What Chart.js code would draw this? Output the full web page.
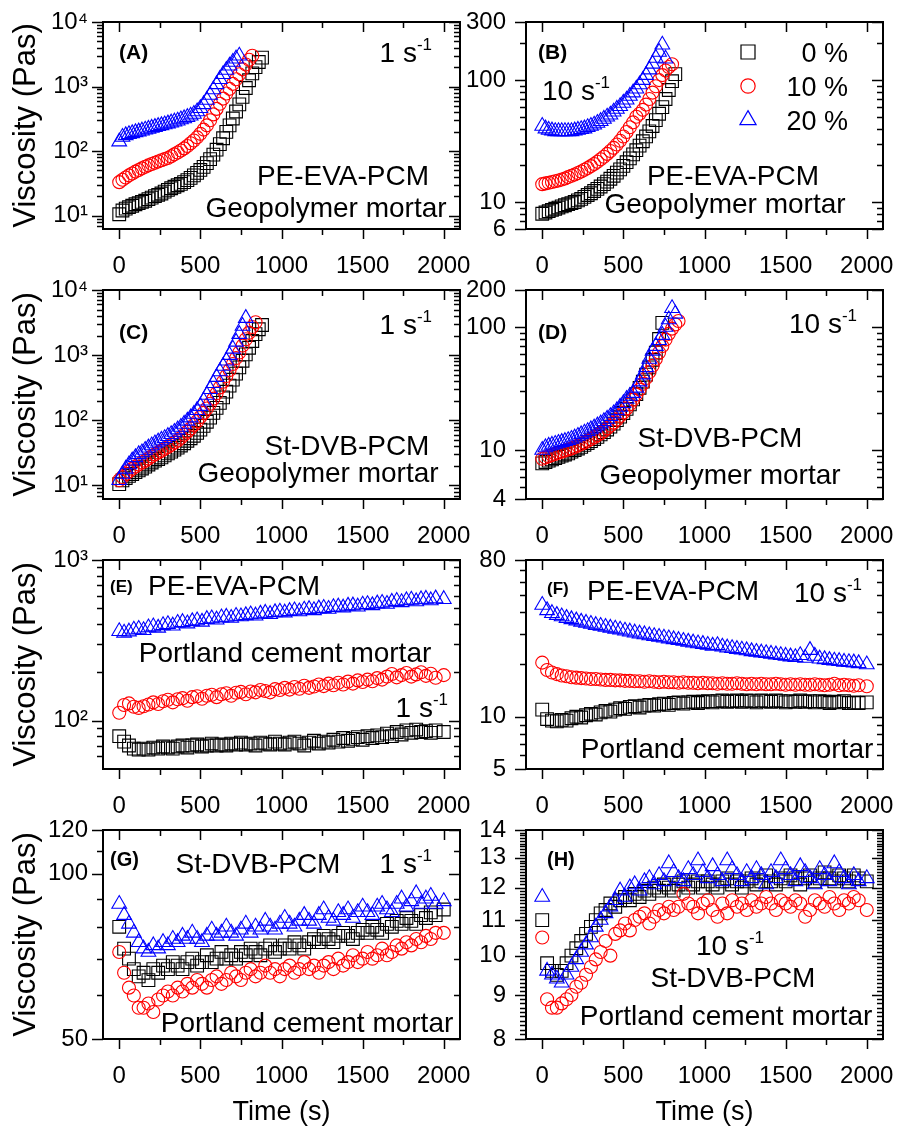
<!DOCTYPE html>
<html>
<head>
<meta charset="utf-8">
<script src="https://cdn.jsdelivr.net/npm/chart.js@4.4.1/dist/chart.umd.min.js"></script>
<style>
  body { margin: 0; width: 909px; height: 1130px; background: #fff; position: relative; overflow: hidden; }
  canvas { position: absolute; }
</style>
</head>
<body>
<canvas id="cA"></canvas><canvas id="cB"></canvas>
<canvas id="cC"></canvas><canvas id="cD"></canvas>
<canvas id="cE"></canvas><canvas id="cF"></canvas>
<canvas id="cG"></canvas><canvas id="cH"></canvas>
<script>
// sampling times (s)
const T20 = [0,20,40,60,80,100,120,140,160,180,200,220,240,260,280,300,320,340,360,380,400,420,440,460,480,500,520,540,560,580,600,620,640,660,680,700,720,740,760,780,800,820,840,860,880];
const T30 = [0,30,60,90,120,150,180,210,240,270,300,330,360,390,420,450,480,510,540,570,600,630,660,690,720,750,780,810,840,870,900,930,960,990,1020,1050,1080,1110,1140,1170,1200,1230,1260,1290,1320,1350,1380,1410,1440,1470,1500,1530,1560,1590,1620,1650,1680,1710,1740,1770,1800,1830,1860,1890,1920,1950,2000];

const xTicks = [0, 500, 1000, 1500, 2000];
const xTickLabels = ['0', '500', '1000', '1500', '2000'];
const xMinor = [250, 750, 1250, 1750];

// (A) PE-EVA-PCM, geopolymer, 1 s-1
const blackA = [10.5,12,12.8,13.5,14.2,15,15.6,16.3,17,18,
  19,20,21,22,23.5,25,26.5,28,29.5,31,
  33,35.5,38.5,42,46,51,57,65,75,88,
  105,128,158,198,250,320,410,530,690,950,
  1250,1600,2000,2400,2800];
const redA = [33,36,39,42,45,48,51,54,57,60,
  63,66,69,72,75,78,83,89,95,102,
  110,120,132,146,163,185,215,250,300,370,
  450,540,650,780,920,1100,1300,1550,1850,2200,
  2600,3000];
const blueA = [140,165,175,182,188,195,200,207,214,220,
  228,235,243,250,258,266,275,285,295,308,
  320,335,352,375,410,460,530,620,740,900,
  1080,1300,1550,1800,2100,2400,2700,3000];

// (B) PE-EVA-PCM, geopolymer, 10 s-1
const blackB = [8,8.2,8.4,8.6,8.8,9,9.2,9.4,9.6,9.8,
  10,10.3,10.6,11,11.4,11.8,12.3,12.8,13.4,14,
  14.7,15.5,16.4,17.4,18.5,19.8,21.2,22.8,24.6,26.6,
  29,31.5,34.5,38,42,47,53,60,70,83,
  98,112];
const redB = [14,14.2,14.4,14.6,14.8,15,15.3,15.6,16,16.4,
  16.8,17.3,17.8,18.4,19,19.7,20.5,21.4,22.4,23.5,
  24.8,26.2,27.8,29.6,31.8,34.5,37.5,41,45,50,
  53,57,63,70,79,89,100,110,120,128,
  135];
const blueB = [42,40,39,38.5,38,38,38,38,38,38,
  38.5,39,39.5,40,41,42,43,44.5,46,48,
  50,52,55,58,61,65,69,74,79,85,
  92,100,110,122,136,152,170,195,150];

// (C) St-DVB-PCM, geopolymer, 1 s-1
const blackC = [10.5,12,13,14,15,16,17,18.2,19.5,21,
  22.5,24,25.5,27,29,31,33,35.5,38,41,
  44.5,48.5,53,58,64,72,82,95,110,130,
  155,185,225,275,340,420,520,650,820,1030,
  1300,1650,2100,2500,2900];
const redC = [12,13.5,15,16.5,18,19.5,21,22.5,24,26,
  28,30,32,34,36.5,39,42,45.5,49,54,
  60,67,75,85,97,112,130,152,180,215,
  260,320,390,480,590,730,900,1100,1400,1750,
  2200,2700,3200];
const blueC = [12,15,18,21,24,27,30,32,35,38,
  41,44,47,50,53,57,61,66,72,79,
  88,98,110,125,143,165,200,245,300,370,
  460,560,680,820,1000,1250,1600,2100,2800,3700];

// (D) St-DVB-PCM, geopolymer, 10 s-1
const blackD = [7.8,8,8.2,8.4,8.6,8.8,9,9.2,9.4,9.7,
  10,10.3,10.6,11,11.4,11.8,12.3,12.8,13.4,14,
  14.7,15.5,16.4,17.5,18.7,20,21.6,23.5,25.8,28.5,
  32,36,41,47,54,62,80,108];
const redD = [8.5,8.7,8.9,9.1,9.3,9.5,9.7,9.9,10.1,10.3,
  10.6,10.9,11.2,11.5,11.9,12.3,12.7,13.2,13.7,14.3,
  15,15.8,16.7,17.7,18.9,20.2,21.8,23.6,25.7,28.2,
  31,34.5,38.5,43,48.5,55,62,70,79,88,
  97,105,112];
const blueD = [10,10.5,10.8,11,11.2,11.4,11.6,11.8,12,12.3,
  12.6,13,13.4,13.8,14.2,14.7,15.2,15.8,16.4,17.1,
  17.9,18.8,19.8,21,22.4,24,26,27.5,29,32,
  36,41,47,55,64,70,78,86,100,115,
  142,128];

// (E) PE-EVA-PCM, Portland, 1 s-1
const blackE = [80,74,70,67,66,67,66,68,67,69,
  68,67,69,70,68,70,71,69,70,72,
  70,71,70,72,71,73,71,72,70,73,
  72,71,74,72,71,73,74,72,70,73,
  75,72,74,73,76,74,78,75,77,79,
  76,80,78,81,79,83,80,85,82,87,
  84,88,85,86,84,87,85];
const redE = [112,125,128,122,120,123,126,130,127,132,
  135,130,136,138,133,140,142,137,143,145,
  140,146,148,143,149,151,146,152,150,155,
  153,150,157,155,160,156,162,158,165,160,
  163,168,164,170,166,172,168,175,170,178,
  174,180,176,184,180,188,195,186,192,198,
  188,194,200,190,196,185,192];
const blueE = [360,352,358,368,372,365,380,385,378,392,
  398,390,405,410,402,415,420,412,428,432,
  425,438,442,435,448,445,452,458,450,462,
  468,460,472,476,470,480,485,478,490,494,
  486,498,502,495,508,512,505,518,520,512,
  526,530,522,535,540,532,548,555,545,560,
  565,552,568,572,560,575,570];

// (F) PE-EVA-PCM, Portland, 10 s-1
const blackF = [11.0,9.7,9.5,9.4,9.6,9.5,9.8,10.0,9.9,10.2,
  10.4,10.3,10.6,10.8,10.7,11.0,11.2,11.1,11.4,11.5,
  11.3,11.6,11.7,11.6,11.8,11.9,11.7,12.0,12.1,11.9,
  12.1,12.2,12.0,12.2,12.3,12.1,12.3,12.4,12.2,12.3,
  12.4,12.2,12.4,12.3,12.1,12.4,12.3,12.2,12.4,12.3,
  12.1,12.3,12.2,12.4,12.2,12.3,12.1,12.3,12.2,12.0,
  12.2,12.1,12.3,12.0,12.1,12.0,12.1];
const redF = [20.5,18.6,18.0,17.6,17.3,17.1,16.9,16.8,16.7,16.6,
  16.5,16.5,16.4,16.3,16.3,16.2,16.2,16.1,16.1,16.0,
  16.0,15.9,16.0,15.9,15.8,15.9,15.8,15.8,15.7,15.8,
  15.7,15.7,15.6,15.7,15.6,15.6,15.5,15.6,15.5,15.5,
  15.6,15.5,15.4,15.5,15.4,15.5,15.4,15.4,15.5,15.4,
  15.3,15.4,15.3,15.4,15.3,15.3,15.4,15.3,15.2,15.3,
  15.5,15.2,15.3,15.2,15.1,15.2,15.0];
const blueF = [44,41,39.5,38.5,37.8,37,36.4,35.8,35.2,34.7,
  34.2,33.7,33.3,32.9,32.5,32.1,31.7,31.3,30.9,30.5,
  30.1,29.8,29.4,29.1,28.8,28.5,28.2,27.9,27.6,27.3,
  27.0,26.7,26.4,26.2,25.9,25.6,25.8,25.3,25.0,24.8,
  24.5,24.3,24.1,23.8,23.6,23.4,23.2,23.0,22.8,22.6,
  22.4,22.2,22.0,22.6,21.8,24.2,22.4,21.6,21.4,21.2,
  21.0,20.9,20.7,20.6,20.5,20.3,20.0];

// (G) St-DVB-PCM, Portland, 1 s-1
const blackG = [80,73,70,67,65,66,64,67,66,68,
  67,69,68,67,69,70,68,69,71,69,
  70,72,70,71,70,72,71,73,72,71,
  73,74,72,73,74,73,75,74,73,75,
  76,75,77,76,75,77,78,77,76,78,
  79,78,80,79,78,81,80,82,81,83,
  82,81,84,83,85,84,86];
const redG = [72,66,62,60,57,57,58,56,59,60,
  61,60,62,61,63,62,64,63,62,64,
  65,63,64,66,65,64,66,67,65,66,
  68,66,67,65,67,68,66,67,69,67,
  68,66,68,69,67,70,68,69,71,69,
  70,72,70,71,73,71,72,74,73,75,
  74,76,75,77,76,78,78];
const blueG = [88,84,81,78,75,73,72,74,73,75,
  74,76,75,77,76,78,76,75,77,79,
  77,78,80,78,77,79,81,78,80,79,
  82,80,79,81,83,81,80,82,84,82,
  81,84,86,83,82,85,84,86,83,85,
  87,85,84,87,88,86,85,88,90,87,
  89,92,88,90,91,88,89];

// (H) St-DVB-PCM, Portland, 10 s-1
const blackH = [11.0,9.8,9.6,9.5,9.6,9.8,10.0,10.2,10.4,10.6,
  10.8,11.0,11.2,11.3,11.5,11.4,11.6,11.7,11.6,11.8,
  11.7,11.9,11.8,12.0,11.9,12.1,12.0,11.9,12.1,12.2,
  12.0,12.1,12.2,12.0,12.2,12.1,12.0,12.2,12.3,12.1,
  12.2,12.0,12.2,12.3,12.1,12.2,12.4,12.2,12.1,12.3,
  12.2,12.4,12.3,12.1,12.3,12.4,12.2,12.3,12.5,12.3,
  12.2,12.4,12.3,12.2,12.4,12.3,12.2];
const redH = [10.5,8.9,8.7,8.7,8.8,8.9,9.0,9.2,9.3,9.5,
  9.7,9.9,10.1,10.4,10.0,10.6,10.7,10.9,10.7,11.0,
  11.1,11.2,10.9,11.1,11.3,11.2,11.4,11.3,11.4,11.8,
  11.5,11.4,11.2,11.5,11.6,11.3,11.1,11.5,11.2,11.6,
  11.4,11.5,11.3,11.6,11.4,11.5,11.7,11.5,11.3,11.6,
  11.5,11.4,11.6,11.5,11.1,11.3,11.6,11.5,11.4,11.7,
  11.5,11.3,11.6,11.5,11.7,11.6,11.3];
const blueH = [11.7,9.6,9.5,9.4,9.3,9.5,9.7,9.9,10.1,10.3,
  10.5,10.8,11.0,11.2,11.4,11.6,11.9,11.7,12.0,12.1,
  11.9,12.2,12.3,12.1,12.4,12.2,12.8,12.5,12.3,12.2,
  12.6,12.4,12.9,12.5,12.3,12.7,12.4,12.2,12.9,12.6,
  12.4,12.2,12.5,12.3,12.6,12.4,12.1,12.5,12.3,12.9,
  12.6,12.4,12.2,12.7,12.5,12.3,12.1,12.6,12.4,12.2,
  12.8,12.5,12.3,12.1,12.4,12.2,12.3];

// y tick values and labels
const yTicksAC = [10, 100, 1000, 10000];
const yLabelsAC = ['10¹', '10²', '10³', '10⁴'];
const yTicksB = [6, 10, 100, 300];
const yLabelsB = ['6', '10', '100', '300'];
const yTicksD = [4, 10, 100, 200];
const yLabelsD = ['4', '10', '100', '200'];
const yTicksE = [100, 1000];
const yLabelsE = ['10²', '10³'];
const yTicksF = [5, 10, 80];
const yLabelsF = ['5', '10', '80'];
const yTicksG = [50, 100, 120];
const yLabelsG = ['50', '100', '120'];
const yTicksH = [8, 9, 10, 11, 12, 13, 14];
const yLabelsH = ['8', '9', '10', '11', '12', '13', '14'];

const seriesLabels = ['20 %', '10 %', '0 %'];
const FONT = '"Liberation Sans", Arial, Helvetica, sans-serif';
Chart.defaults.font.family = FONT;
Chart.defaults.color = '#000';

const styles = [
  { color: '#0000ff', pointStyle: 'triangle', radius: 8.5 },
  { color: '#ff0000', pointStyle: 'circle', radius: 6.5 },
  { color: '#000000', pointStyle: 'rect', radius: 9 }
];

const cols = [
  { left: 0, width: 475, yw: 103, padR: 15, tickPad: 15 },
  { left: 455, width: 454, yw: 71, padR: 26, tickPad: 20 }
];
const rows = [
  { top: 22, bottom: 229 },
  { top: 290, bottom: 499 },
  { top: 560, bottom: 769 },
  { top: 830, bottom: 1039 }
];

function logMinors(min, max, majors) {
  const out = [];
  for (let d = Math.floor(Math.log10(min)); d <= Math.ceil(Math.log10(max)); d++) {
    for (let k = 1; k <= 9; k++) {
      const v = k * Math.pow(10, d);
      if (v > min * 1.001 && v < max * 0.999 && !majors.includes(v)) out.push(v);
    }
  }
  return out;
}
const minorsH = [];
for (let v = 81; v < 140; v++) if (v % 10 !== 0) minorsH.push(v / 10);

const rate1 = { text: '1 s', sup: '-1' };
const rate10 = { text: '10 s', sup: '-1' };

const panels = [
  { id: 'cA', col: 0, row: 0, times: T20, series: [blueA, redA, blackA],
    yMin: 6.2, yMax: 10000, yTicks: yTicksAC, yLabels: yLabelsAC,
    notes: [
      { text: '(A)', bold: true, size: 21, dx: 16, dy: 31, middle: true },
      { ...rate1, align: 'right', dx: 329, dy: 40 },
      { text: 'PE-EVA-PCM', align: 'center', dx: 240, dy: 163 },
      { text: 'Geopolymer mortar', align: 'center', dx: 223, dy: 195 }
    ] },
  { id: 'cB', col: 1, row: 0, times: T20, series: [blueB, redB, blackB],
    yMin: 6, yMax: 300, yTicks: yTicksB, yLabels: yLabelsB, legend: true,
    notes: [
      { text: '(B)', bold: true, size: 21, dx: 12, dy: 31, middle: true },
      { ...rate10, align: 'left', dx: 16, dy: 78 },
      { text: 'PE-EVA-PCM', align: 'center', dx: 207, dy: 163 },
      { text: 'Geopolymer mortar', align: 'center', dx: 199, dy: 191 }
    ] },
  { id: 'cC', col: 0, row: 1, times: T20, series: [blueC, redC, blackC],
    yMin: 6.2, yMax: 10000, yTicks: yTicksAC, yLabels: yLabelsAC,
    notes: [
      { text: '(C)', bold: true, size: 21, dx: 16, dy: 43, middle: true },
      { ...rate1, align: 'right', dx: 329, dy: 44 },
      { text: 'St-DVB-PCM', align: 'center', dx: 244, dy: 165 },
      { text: 'Geopolymer mortar', align: 'center', dx: 215, dy: 192 }
    ] },
  { id: 'cD', col: 1, row: 1, times: T20, series: [blueD, redD, blackD],
    yMin: 4, yMax: 200, yTicks: yTicksD, yLabels: yLabelsD,
    notes: [
      { text: '(D)', bold: true, size: 21, dx: 12, dy: 43, middle: true },
      { ...rate10, align: 'right', dx: 331, dy: 43 },
      { text: 'St-DVB-PCM', align: 'center', dx: 194, dy: 157 },
      { text: 'Geopolymer mortar', align: 'center', dx: 194, dy: 194 }
    ] },
  { id: 'cE', col: 0, row: 2, times: T30, series: [blueE, redE, blackE],
    yMin: 50, yMax: 1000, yTicks: yTicksE, yLabels: yLabelsE,
    notes: [
      { text: '(E)', bold: true, size: 17, dx: 7, dy: 27, middle: true },
      { text: 'PE-EVA-PCM', align: 'left', dx: 45, dy: 35 },
      { text: 'Portland cement mortar', align: 'center', dx: 182, dy: 102 },
      { ...rate1, align: 'right', dx: 345, dy: 157 }
    ] },
  { id: 'cF', col: 1, row: 2, times: T30, series: [blueF, redF, blackF],
    yMin: 5, yMax: 80, yTicks: yTicksF, yLabels: yLabelsF,
    notes: [
      { text: '(F)', bold: true, size: 17, dx: 21, dy: 29, middle: true },
      { text: 'PE-EVA-PCM', align: 'left', dx: 61, dy: 40 },
      { ...rate10, align: 'right', dx: 336, dy: 42 },
      { text: 'Portland cement mortar', align: 'center', dx: 201, dy: 198 }
    ] },
  { id: 'cG', col: 0, row: 3, times: T30, series: [blueG, redG, blackG],
    yMin: 50, yMax: 120, yTicks: yTicksG, yLabels: yLabelsG, yMinor: [60, 70, 80, 90, 110],
    notes: [
      { text: '(G)', bold: true, size: 20, dx: 7, dy: 30, middle: true },
      { text: 'St-DVB-PCM', align: 'center', dx: 155, dy: 43 },
      { ...rate1, align: 'right', dx: 329, dy: 43 },
      { text: 'Portland cement mortar', align: 'center', dx: 204, dy: 202 }
    ] },
  { id: 'cH', col: 1, row: 3, times: T30, series: [blueH, redH, blackH],
    yMin: 8, yMax: 14, yTicks: yTicksH, yLabels: yLabelsH, yMinor: minorsH,
    notes: [
      { text: '(H)', bold: true, size: 20, dx: 21, dy: 30, middle: true },
      { ...rate10, align: 'center', dx: 204, dy: 125 },
      { text: 'St-DVB-PCM', align: 'center', dx: 207, dy: 157 },
      { text: 'Portland cement mortar', align: 'center', dx: 200, dy: 195 }
    ] }
];

function drawNote(ctx, a, n) {
  const size = n.size || 28;
  const main = (n.bold ? 'bold ' : '') + size + 'px ' + FONT;
  const supFont = Math.round(size * 0.62) + 'px ' + FONT;
  ctx.font = main;
  const w1 = ctx.measureText(n.text).width;
  let w2 = 0;
  if (n.sup) { ctx.font = supFont; w2 = ctx.measureText(n.sup).width; }
  let x0 = a.left + n.dx;
  if (n.align === 'center') x0 -= (w1 + w2) / 2;
  else if (n.align === 'right') x0 -= w1 + w2;
  const y = a.top + n.dy;
  ctx.fillStyle = '#000';
  ctx.textAlign = 'left';
  ctx.textBaseline = n.middle ? 'middle' : 'alphabetic';
  ctx.font = main;
  ctx.fillText(n.text, x0, y);
  if (n.sup) { ctx.font = supFont; ctx.fillText(n.sup, x0 + w1, y - size * 0.42); }
}

function drawMarker(ctx, style, cx, cy, r, color) {
  ctx.strokeStyle = color;
  ctx.lineWidth = 1.2;
  ctx.beginPath();
  if (style === 'rect') {
    const s = r * Math.SQRT1_2;
    ctx.rect(cx - s, cy - s, 2 * s, 2 * s);
  } else if (style === 'circle') {
    ctx.arc(cx, cy, r, 0, Math.PI * 2);
  } else {
    for (let k = 0; k < 3; k++) {
      const ang = k * 2 * Math.PI / 3;
      const px = cx + Math.sin(ang) * r, py = cy - Math.cos(ang) * r;
      if (k === 0) ctx.moveTo(px, py); else ctx.lineTo(px, py);
    }
    ctx.closePath();
  }
  ctx.stroke();
}

function decor(p) {
  const yMinor = p.yMinor || logMinors(p.yMin, p.yMax, p.yTicks);
  return {
    id: 'decor',
    afterDraw(chart) {
      const { ctx, chartArea: a } = chart;
      const x = chart.scales.x, y = chart.scales.y;
      ctx.save();
      ctx.strokeStyle = '#000';
      ctx.lineWidth = 1.5;
      ctx.beginPath();
      const xMark = (list, len) => list.forEach(v => {
        const px = Math.round(x.getPixelForValue(v)) + 0.5;
        ctx.moveTo(px, a.bottom); ctx.lineTo(px, a.bottom + len);
        ctx.moveTo(px, a.top); ctx.lineTo(px, a.top + len);
      });
      const yMark = (list, len) => list.forEach(v => {
        const py = Math.round(y.getPixelForValue(v)) + 0.5;
        ctx.moveTo(a.left, py); ctx.lineTo(a.left - len, py);
        ctx.moveTo(a.right, py); ctx.lineTo(a.right - len, py);
      });
      xMark(xTicks, 10); xMark(xMinor, 6);
      yMark(p.yTicks, 11); yMark(yMinor, 6);
      ctx.stroke();
      ctx.lineWidth = 2;
      ctx.strokeRect(a.left, a.top, a.right - a.left, a.bottom - a.top);
      p.notes.forEach(n => drawNote(ctx, a, n));
      if (p.legend) {
        // rows: 0 %, 10 %, 20 %
        [2, 1, 0].forEach((k, r) => {
          const cy = a.top + 30 + r * 34;
          const st = styles[k];
          drawMarker(ctx, st.pointStyle, a.left + 222, cy, st.radius * 1.1, st.color);
          ctx.fillStyle = '#000';
          ctx.font = '27px ' + FONT;
          ctx.textAlign = 'right';
          ctx.textBaseline = 'alphabetic';
          ctx.fillText(seriesLabels[k], a.left + 322, cy + 10);
        });
      }
      ctx.restore();
    }
  };
}

panels.forEach(p => {
  const col = cols[p.col], row = rows[p.row];
  const xh = p.row === 3 ? 1130 - row.bottom : 45;
  const canvas = document.getElementById(p.id);
  const top = row.top - 20;
  canvas.width = col.width;
  canvas.height = 20 + (row.bottom - row.top) + xh;
  canvas.style.left = col.left + 'px';
  canvas.style.top = top + 'px';

  new Chart(canvas, {
    type: 'scatter',
    data: {
      datasets: p.series.map((vals, k) => ({
        label: seriesLabels[k],
        data: vals.map((v, i) => ({ x: p.times[i], y: v })),
        pointStyle: styles[k].pointStyle,
        pointRadius: styles[k].radius,
        pointBorderWidth: 1.1,
        borderColor: styles[k].color,
        backgroundColor: 'rgba(0,0,0,0)',
        showLine: false
      }))
    },
    options: {
      responsive: false,
      animation: false,
      events: [],
      layout: { padding: { top: 20, right: col.padR, left: 0, bottom: 0 } },
      plugins: { legend: { display: false }, tooltip: { enabled: false } },
      scales: {
        x: {
          type: 'linear', min: -100, max: 2100,
          afterBuildTicks: ax => { ax.ticks = xTicks.map(v => ({ value: v })); },
          afterFit: ax => { ax.height = xh; ax.paddingLeft = 0; ax.paddingRight = 0; },
          grid: { display: false, drawTicks: false },
          border: { display: false },
          ticks: {
            padding: 23, autoSkip: false, maxRotation: 0, minRotation: 0,
            font: { size: 24 }, color: '#000',
            callback: v => xTickLabels[xTicks.indexOf(v)]
          },
          title: { display: p.row === 3, text: 'Time (s)', font: { size: 27 }, color: '#000', padding: { top: 0, bottom: 1 } }
        },
        y: {
          type: 'logarithmic', min: p.yMin, max: p.yMax,
          afterBuildTicks: ax => { ax.ticks = p.yTicks.map(v => ({ value: v })); },
          afterFit: ax => { ax.width = col.yw; ax.paddingTop = 0; ax.paddingBottom = 0; },
          grid: { display: false, drawTicks: false },
          border: { display: false },
          ticks: {
            padding: col.tickPad, autoSkip: false,
            font: { size: 24 }, color: '#000',
            callback: v => p.yLabels[p.yTicks.indexOf(v)]
          },
          title: { display: p.col === 0, text: 'Viscosity (Pas)', font: { size: 31 }, color: '#000', padding: { top: 8, bottom: 0 } }
        }
      }
    },
    plugins: [decor(p)]
  });
});
</script>
</body>
</html>
